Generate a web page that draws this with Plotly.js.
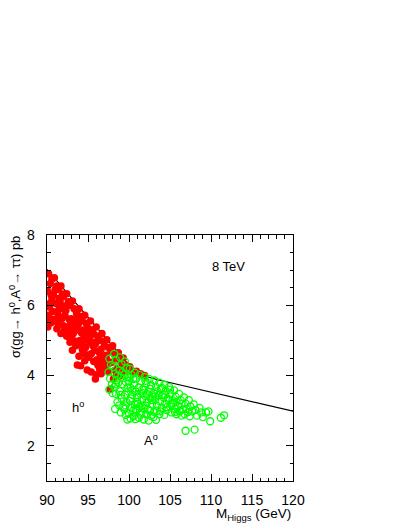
<!DOCTYPE html>
<html>
<head>
<meta charset="utf-8">
<script src="https://cdn.plot.ly/plotly-3.0.1.min.js"></script>
<style>
  html, body { margin: 0; padding: 0; background: #fff; }
  #chart { width: 409px; height: 529px; }
</style>
</head>
<body>
<div id="chart"></div>
<script>
// upper limit curve
const limitX = [90, 99, 100, 101, 102, 103.5, 120];
const limitY = [7.02, 4.6, 4.3, 4.1, 3.98, 3.88, 2.99];

// h0 points (filled red)
const hX = [
  90.2, 90.4, 90.1, 90.6, 90.3, 90.2, 90.5, 90.1,
  90.9, 91.2, 90.8, 91.1, 91.3, 90.9, 91.2,
  91.7, 91.9, 91.6, 92.1, 91.8, 92.0, 91.7,
  92.4, 92.6, 92.3, 92.7, 92.5, 92.4, 92.8,
  93.1, 93.3, 93.0, 93.4, 93.2, 93.5, 93.1, 93.7,
  93.9, 94.1, 93.8, 94.2, 94.0, 94.3, 93.9, 94.1,
  94.6, 94.8, 94.5, 94.9, 94.7, 95.0, 94.6, 94.9,
  95.3, 95.5, 95.2, 95.6, 95.4, 95.7, 95.9,
  96.0, 96.2, 95.9, 96.3, 96.1, 96.4, 96.0,
  96.7, 96.9, 96.6, 97.0, 96.8, 96.6,
  97.3, 97.5, 97.2, 97.6, 97.4, 97.7,
  98.0, 98.2, 97.9, 98.3, 98.1,
  98.7, 98.9, 98.6, 98.8,
  99.3, 99.6, 99.4,
  100.1, 100.4, 100.9, 101.4, 101.9,
  90.3, 91.5, 92.2, 93.6, 94.4, 95.1, 95.8, 96.5, 97.1, 92.9, 94.3, 95.4,
  90.6, 90.5, 90.7, 91.0, 91.4, 91.5, 91.3, 92.0, 92.2, 92.1,
  92.8, 92.9, 93.0, 93.6, 93.7, 93.5, 94.3, 94.5, 94.4, 95.0,
  95.2, 95.1, 95.7, 95.8, 96.4, 96.5, 97.0, 97.1, 97.8, 98.4,
  98.5, 99.0, 99.1, 91.4, 92.6, 93.9, 94.7, 96.2, 97.3, 90.4
];
const hY = [
  6.9, 6.62, 6.4, 6.18, 5.95, 5.72, 5.5, 5.38,
  6.78, 6.55, 6.3, 6.05, 5.82, 5.6, 5.33,
  6.55, 6.32, 6.1, 5.88, 5.62, 5.42, 5.2,
  6.33, 6.1, 5.85, 5.6, 5.38, 5.12, 4.95,
  6.12, 5.9, 5.62, 5.42, 5.2, 4.98, 4.72, 4.3,
  5.9, 5.68, 5.45, 5.22, 5.0, 4.75, 4.55, 4.28,
  5.72, 5.48, 5.25, 5.02, 4.8, 4.55, 4.42, 4.16,
  5.55, 5.3, 5.08, 4.85, 4.62, 4.4, 3.9,
  5.38, 5.12, 4.9, 4.68, 4.45, 4.2, 4.02,
  5.2, 4.98, 4.75, 4.52, 4.3, 4.05,
  5.02, 4.8, 4.58, 4.35, 4.12, 3.62,
  4.85, 4.6, 4.38, 4.15, 3.9,
  4.65, 4.42, 4.2, 3.98,
  4.5, 4.3, 4.12,
  4.25, 4.12, 4.12, 4.05, 4.0,
  6.05, 5.95, 5.7, 5.6, 5.3, 5.2, 4.95, 4.6, 4.45, 5.35, 4.9, 4.1,
  6.75, 6.3, 5.82, 6.45, 6.45, 6.2, 5.5, 6.25, 5.98, 5.3,
  6.0, 5.52, 5.1, 5.78, 5.3, 4.85, 5.55, 5.1, 4.65, 5.35,
  4.95, 4.52, 5.18, 4.72, 5.0, 4.4, 4.85, 4.22, 4.7, 4.5,
  4.05, 4.5, 4.28, 5.7, 5.25, 4.9, 4.6, 4.3, 4.45, 5.6
];

// A0 points (open green)
const aX = [
  97.6, 97.8, 97.5, 97.7, 97.9, 97.6,
  98.2, 98.4, 98.1, 98.3, 98.5, 98.2, 98.4, 98.6, 98.3,
  98.9, 99.1, 98.8, 99.0, 99.2, 98.9, 99.1, 98.8, 99.0,
  99.5, 99.7, 99.4, 99.6, 99.8, 99.5, 99.7, 99.4, 99.6, 99.8,
  100.1, 100.3, 100.0, 100.2, 100.4, 100.1, 100.3, 100.0, 100.2,
  100.7, 100.9, 100.6, 100.8, 101.0, 100.7, 100.9, 100.6, 100.8,
  101.3, 101.5, 101.2, 101.4, 101.6, 101.3, 101.5, 101.2,
  101.9, 102.1, 101.8, 102.0, 102.2, 101.9, 102.1, 101.8,
  102.5, 102.7, 102.4, 102.6, 102.8, 102.5, 102.7, 102.4,
  103.1, 103.3, 103.0, 103.2, 103.4, 103.1, 103.3,
  103.7, 103.9, 103.6, 103.8, 104.0, 103.7,
  104.3, 104.5, 104.2, 104.4, 104.6, 104.3,
  104.9, 105.1, 104.8, 105.0, 105.2,
  105.5, 105.7, 105.4, 105.6, 105.8,
  106.1, 106.3, 106.0, 106.2, 106.4,
  106.7, 106.9, 106.6, 106.8,
  107.3, 107.5, 107.2, 107.4,
  107.9, 108.1, 108.3,
  108.6, 108.8, 109.0,
  109.4, 109.7, 109.9,
  106.9, 108.0, 111.2, 111.6,
  98.7, 99.9, 100.5, 101.1, 101.7, 102.3, 102.9, 103.5, 104.1, 104.7, 105.3, 99.3, 100.5, 101.7,
  98.0, 98.6, 99.2, 99.8, 100.4, 101.0, 101.6, 102.2, 102.8, 103.4, 104.0, 104.6,
  105.2, 105.8, 106.4, 107.0, 107.7, 98.4, 99.0, 99.6, 100.2, 100.8, 101.4, 102.0,
  102.6, 103.2, 103.8, 104.4, 105.0, 105.6, 106.2, 100.0, 101.0, 102.0, 103.0
];
const aY = [
  4.48, 4.3, 4.1, 3.92, 3.75, 3.6,
  4.62, 4.45, 4.25, 4.05, 3.88, 3.68, 3.48, 3.25, 3.05,
  4.52, 4.32, 4.15, 3.95, 3.75, 3.55, 3.35, 3.15, 2.95,
  4.4, 4.22, 4.02, 3.82, 3.65, 3.45, 3.25, 3.05, 2.88, 2.75,
  4.2, 4.02, 3.85, 3.65, 3.45, 3.28, 3.08, 2.92, 2.78,
  4.08, 3.92, 3.74, 3.55, 3.38, 3.18, 3.0, 2.85, 2.76,
  4.02, 3.84, 3.66, 3.48, 3.3, 3.12, 2.94, 2.8,
  3.96, 3.78, 3.6, 3.42, 3.24, 3.06, 2.9, 2.75,
  3.9, 3.72, 3.54, 3.36, 3.18, 3.0, 2.85, 2.72,
  3.86, 3.68, 3.5, 3.32, 3.14, 2.96, 2.74,
  3.8, 3.62, 3.44, 3.26, 3.08, 2.9,
  3.74, 3.56, 3.38, 3.2, 3.02, 2.88,
  3.68, 3.48, 3.3, 3.12, 2.95,
  3.58, 3.4, 3.22, 3.05, 2.9,
  3.48, 3.3, 3.12, 2.98, 2.86,
  3.38, 3.2, 3.04, 2.9,
  3.3, 3.12, 2.96, 2.84,
  3.18, 3.02, 2.86,
  3.08, 2.95, 2.82,
  2.95, 2.98, 2.7,
  2.43, 2.46, 2.8, 2.87,
  3.8, 3.55, 3.9, 3.2, 3.5, 3.05, 3.4, 3.55, 3.45, 3.35, 3.3, 3.1, 3.0, 3.15,
  3.5, 4.0, 4.1, 3.95, 3.6, 3.25, 3.6, 3.48, 3.3, 3.0, 3.65, 3.1,
  3.2, 3.25, 3.2, 3.05, 2.98, 3.75, 3.45, 3.15, 3.35, 3.05, 2.88, 3.15,
  3.62, 3.4, 2.98, 3.45, 3.6, 2.96, 3.0, 3.95, 3.45, 3.85, 2.82
];

const font = "Liberation Sans, Arial, Helvetica, sans-serif";

const traces = [
  {
    x: limitX, y: limitY, mode: "lines", type: "scatter",
    line: { color: "black", width: 1.2 }, hoverinfo: "skip"
  },
  {
    x: hX, y: hY, mode: "markers", type: "scatter",
    marker: { symbol: "circle", size: 7.5, color: "#ff0000" }
  },
  {
    x: aX, y: aY, mode: "markers", type: "scatter",
    marker: { symbol: "circle-open", size: 7, color: "#00ff00", line: { width: 1.3 } }
  }
];

const axisCommon = {
  showgrid: false, zeroline: false,
  showline: true, linecolor: "black", linewidth: 1.3, mirror: "ticks",
  ticks: "inside", ticklen: 7, tickwidth: 1, tickcolor: "black",
  tickfont: { family: font, size: 14, color: "black" }
};

const layout = {
  width: 409, height: 529,
  margin: { l: 47, r: 116, t: 235, b: 48 },
  paper_bgcolor: "white", plot_bgcolor: "white",
  showlegend: false,
  xaxis: Object.assign({}, axisCommon, {
    range: [90, 120], tick0: 90, dtick: 5, ticklabelstandoff: 6,
    minor: { dtick: 1, ticks: "inside", ticklen: 3.5, tickcolor: "black", showgrid: false }
  }),
  yaxis: Object.assign({}, axisCommon, {
    range: [1, 8], tick0: 0, dtick: 2, ticklabelstandoff: 8,
    minor: { dtick: 0.5, ticks: "inside", ticklen: 3.5, tickcolor: "black", showgrid: false }
  }),
  annotations: [
    { text: "σ(gg→ h<sup>0</sup>,A<sup>0</sup>→ ττ) pb", xref: "paper", yref: "paper",
      x: -0.13, y: 0.748, textangle: -90, showarrow: false,
      xanchor: "center", yanchor: "middle", font: { family: font, size: 13, color: "black" } },
    { text: "M<sub>Higgs</sub> (GeV)", xref: "paper", yref: "paper",
      x: 1.0, y: -0.138, showarrow: false, xanchor: "right", yanchor: "middle",
      font: { family: font, size: 13.5, color: "black" } },
    { text: "8 TeV", xref: "x", yref: "y", x: 112.1, y: 7.1, showarrow: false,
      font: { family: font, size: 13, color: "black" } },
    { text: "h<sup>o</sup>", xref: "x", yref: "y", x: 93.8, y: 3.1, showarrow: false,
      font: { family: font, size: 13, color: "black" } },
    { text: "A<sup>o</sup>", xref: "x", yref: "y", x: 102.7, y: 2.17, showarrow: false,
      font: { family: font, size: 13, color: "black" } }
  ]
};

Plotly.newPlot("chart", traces, layout, { displayModeBar: false, staticPlot: true });
</script>
</body>
</html>
